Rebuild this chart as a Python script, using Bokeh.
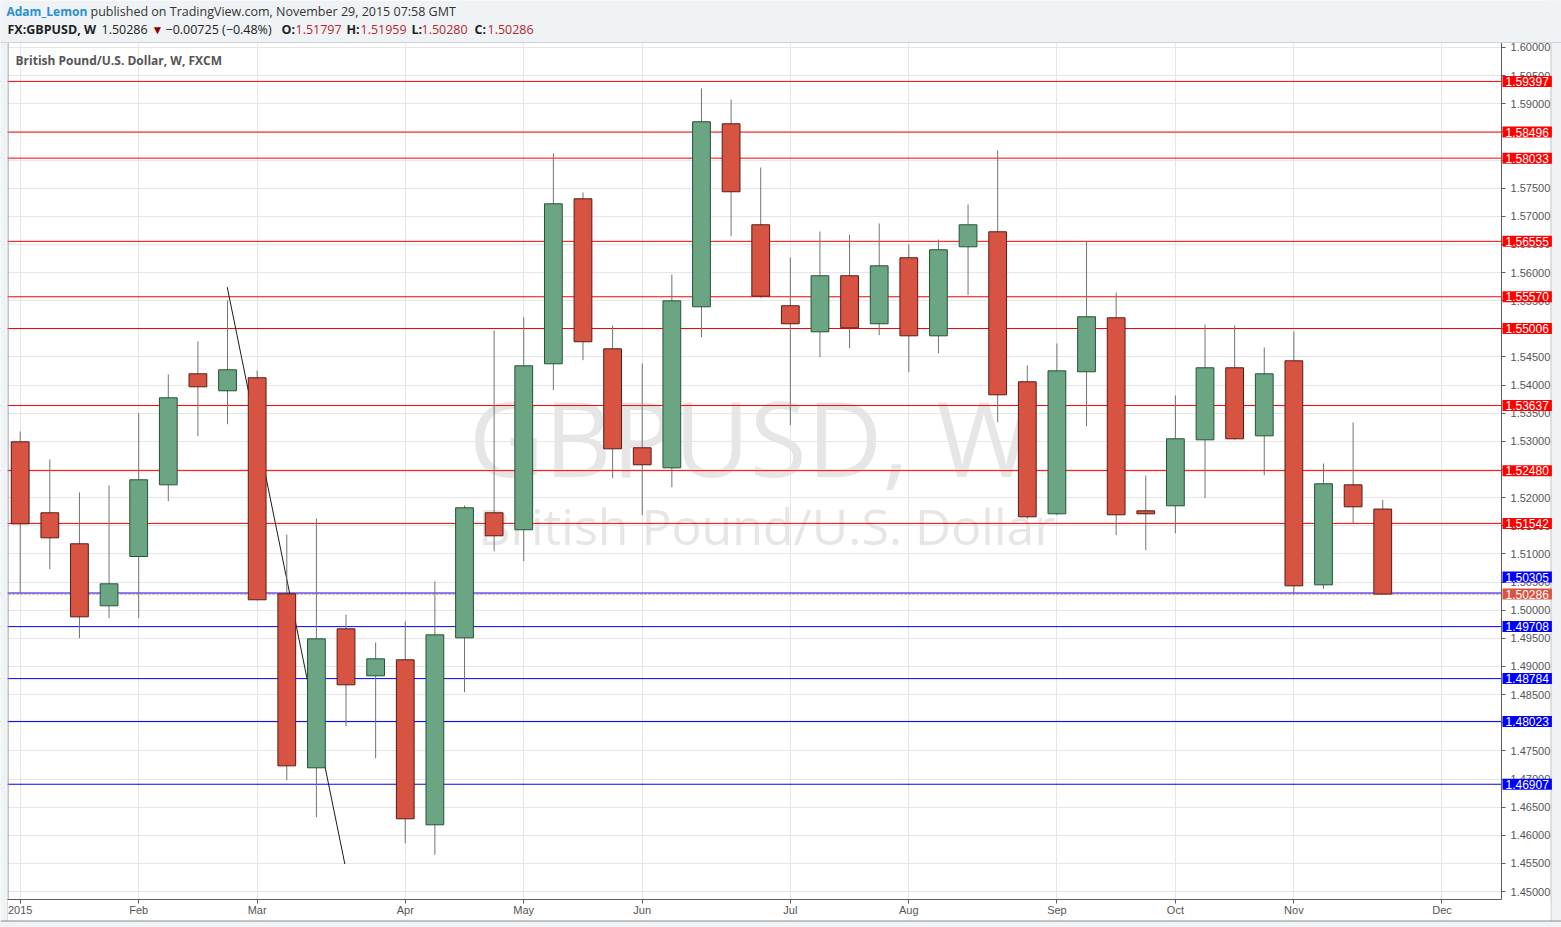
import pandas as pd
from bokeh.plotting import figure
from bokeh.models import (Range1d, FixedTicker, SingleIntervalTicker, PrintfTickFormatter,
                          Span, Label, BoxAnnotation, ColumnDataSource)
from bokeh.embed import file_html
from bokeh.resources import INLINE

# ---------------- data (GBPUSD weekly, FXCM, 2015) ----------------
opens = [1.52992, 1.51731, 1.51180, 1.50078, 1.50954, 1.52228, 1.54201, 1.53899, 1.54130, 1.50291,
         1.47199, 1.49669, 1.48834, 1.49118, 1.46186, 1.49509, 1.51731, 1.51429, 1.54379, 1.57311,
         1.54645, 1.52886, 1.52530, 1.55392, 1.58644, 1.56849, 1.55410, 1.54947, 1.55943, 1.55090,
         1.56263, 1.54876, 1.56458, 1.56725, 1.54059, 1.51713, 1.54237, 1.55196, 1.51766, 1.51855,
         1.53028, 1.54308, 1.53099, 1.54432, 1.50451, 1.52228, 1.51797]
highs = [1.53176, 1.52678, 1.52091, 1.52216, 1.53501, 1.54189, 1.54775, 1.55504, 1.54260, 1.51345,
         1.51629, 1.49923, 1.49426, 1.49799, 1.50510, 1.51860, 1.54971, 1.55202, 1.58116, 1.57423,
         1.55059, 1.54384, 1.55966, 1.59271, 1.59076, 1.57867, 1.56268, 1.56730, 1.56677, 1.56872,
         1.56499, 1.56588, 1.57210, 1.58170, 1.54349, 1.54740, 1.56565, 1.55646, 1.52394, 1.53815,
         1.55077, 1.55059, 1.54668, 1.54953, 1.52607, 1.53336, 1.51959]
lows = [1.50302, 1.50728, 1.49502, 1.49858, 1.49858, 1.51937, 1.53092, 1.53305, 1.50172, 1.46978,
        1.46321, 1.47938, 1.47369, 1.45859, 1.45653, 1.48542, 1.51048, 1.50871, 1.53910, 1.54443,
        1.52346, 1.51688, 1.52186, 1.54851, 1.56646, 1.55552, 1.53288, 1.54496, 1.54656, 1.54887,
        1.54229, 1.54567, 1.55598, 1.53341, 1.51624, 1.51688, 1.53270, 1.51333, 1.51066, 1.51368,
        1.51990, 1.53033, 1.52399, 1.50279, 1.50380, 1.51540, 1.50280]
closes = [1.51535, 1.51286, 1.49882, 1.50469, 1.52317, 1.53774, 1.53970, 1.54272, 1.50185, 1.47234,
          1.49491, 1.48674, 1.49136, 1.46293, 1.49562, 1.51820, 1.51322, 1.54343, 1.57222, 1.54770,
          1.52868, 1.52584, 1.55498, 1.58680, 1.57436, 1.55580, 1.55090, 1.55943, 1.55019, 1.56120,
          1.54876, 1.56405, 1.56849, 1.53828, 1.51660, 1.54254, 1.55214, 1.51695, 1.51713, 1.53046,
          1.54308, 1.53046, 1.54201, 1.50433, 1.52246, 1.51837, 1.50286]
first_week = "2015-01-05"

resistance_levels = [1.59397, 1.58496, 1.58033, 1.56555, 1.55570, 1.55006, 1.53637, 1.52480, 1.51542]
support_levels = [1.50305, 1.49708, 1.48784, 1.48023, 1.46907]
trend_x = [6.99, 10.96]
trend_y = [1.5574, 1.4549]
change_text = "\u22120.00725 (\u22120.48%)"

# ---------------- derived ----------------
n = len(opens)
xs = list(range(n))
week_starts = pd.date_range(first_week, periods=n + 3, freq="7D")
month_ticks, month_labels, seen = [], {}, set()
for i, d in enumerate(week_starts):
    key = (d.year, d.month)
    if key not in seen:
        seen.add(key)
        month_ticks.append(i)
        month_labels[i] = str(d.year) if d.month == 1 else d.strftime("%b")

UP_FILL, UP_LINE = "#6ba583", "#225437"
DN_FILL, DN_LINE = "#d75442", "#5b1a13"
up = [c >= o for o, c in zip(opens, closes)]
src = ColumnDataSource(dict(
    x=xs, o=opens, h=highs, l=lows, c=closes,
    top=[max(o, c) for o, c in zip(opens, closes)],
    bottom=[min(o, c) for o, c in zip(opens, closes)],
    fill=[UP_FILL if u else DN_FILL for u in up],
    line=[UP_LINE if u else DN_LINE for u in up],
))

# ---------------- layout ----------------
W, H = 1561, 927                 # the frame covers the whole canvas
X_START, X_END = -0.665, 52.035  # bar-index range across the full width
PRICE_AXIS_X = 50.01             # bar-index position of the price scale line
Y_LO, Y_HI = 1.44361, 1.60835    # price range across the full height
PANE_TOP, PANE_BOTTOM = 1.60089, 1.44859


def sy(py):                      # page y (from top) -> screen y (from bottom)
    return H - py


p = figure(width=W, height=H, output_backend="svg", toolbar_location=None, title=None,
           x_range=Range1d(X_START, X_END), y_range=Range1d(Y_LO, Y_HI),
           y_axis_location="right", min_border_left=0, min_border_right=0,
           min_border_top=0, min_border_bottom=0,
           background_fill_color="white", border_fill_color="white")
p.outline_line_color = None

AX_FONT = "Liberation Sans"
for ax in (p.xaxis[0], p.yaxis[0]):
    ax.axis_line_color = "#5d5d5d"
    ax.major_tick_line_color = "#5d5d5d"
    ax.major_tick_out = 4
    ax.major_tick_in = 0
    ax.minor_tick_line_color = None
    ax.major_label_text_font = AX_FONT
    ax.major_label_text_font_size = "11px"
    ax.major_label_text_color = "#555555"

p.xaxis.ticker = FixedTicker(ticks=month_ticks)
p.xaxis.major_label_overrides = month_labels
p.xaxis.major_label_standoff = 1
p.xaxis.bounds = (-0.43, PRICE_AXIS_X)
p.xaxis.fixed_location = PANE_BOTTOM
p.yaxis.ticker = SingleIntervalTicker(interval=0.005, num_minor_ticks=0)
p.yaxis.formatter = PrintfTickFormatter(format="%.5f")
p.yaxis.major_label_standoff = 5
p.yaxis.fixed_location = PRICE_AXIS_X
p.yaxis.bounds = (PANE_BOTTOM, PANE_TOP)

p.xgrid.ticker = FixedTicker(ticks=month_ticks)
p.ygrid.ticker = SingleIntervalTicker(interval=0.005, num_minor_ticks=0)
p.xgrid.grid_line_color = "#e6e6e6"
p.ygrid.grid_line_color = "#e6e6e6"

# watermark
p.add_layout(Label(x=750, y=sy(436), x_units="screen", y_units="screen", text="GBPUSD, W",
                   text_font="Open Sans", text_font_size="104px", text_color="#e6e6e6",
                   text_align="center", text_baseline="middle", level="underlay"))
p.add_layout(Label(x=766, y=sy(525), x_units="screen", y_units="screen", text="British Pound/U.S. Dollar",
                   text_font="Open Sans", text_font_size="50px", text_color="#e6e6e6",
                   text_align="center", text_baseline="middle", level="underlay"))

# horizontal levels
for lvl in resistance_levels:
    p.add_layout(Span(location=lvl, dimension="width", line_color="#ff0000", line_width=1, level="underlay"))
for lvl in support_levels:
    p.add_layout(Span(location=lvl, dimension="width", line_color="#0000ff", line_width=1, level="underlay"))
p.add_layout(Span(location=closes[-1], dimension="width", line_color="#d75442", line_width=1,
                  line_dash="2 2", level="underlay"))

# pane borders (left / right), partly hidden by the bands
for sx in (7.5, 1550.5):
    p.add_layout(Span(location=sx, location_units="screen", dimension="height",
                      line_color="#8a8a8a", line_width=1, level="underlay"))

# trend line, wicks, bodies
p.line(trend_x, trend_y, line_color="#1a1a1a", line_width=1)
p.segment(x0="x", y0="l", x1="x", y1="h", source=src, line_color="#737375", line_width=1)
p.vbar(x="x", width=0.6, top="top", bottom="bottom", source=src,
       fill_color="fill", line_color="line", line_width=1)

# masking bands: header, price-scale column, time-axis strip, outer strips
GRAY = "#f0f3f6"
for l, r, b, t, col in [(-5, W + 5, sy(42), H + 5, GRAY),         # header
                        (1501.5, 1550, sy(920), sy(42), "white"),  # price scale
                        (7.5, 1550, sy(920), sy(899.5), "white"),  # time scale
                        (-5, W + 5, -5, sy(920.5), GRAY),          # bottom strip
                        (-5, 7, -5, H + 5, GRAY),                  # left strip
                        (1551, W + 5, -5, H + 5, GRAY)]:           # right strip
    p.add_layout(BoxAnnotation(left=l, right=r, bottom=b, top=t,
                               left_units="screen", right_units="screen",
                               bottom_units="screen", top_units="screen",
                               fill_color=col, fill_alpha=1.0, line_color=None, level="glyph"))
p.add_layout(Span(location=PANE_TOP, dimension="width", line_color="#cfd2d8", line_width=1))
p.add_layout(Span(location=sy(920.5), location_units="screen", dimension="width",
                  line_color="#8a8a8a", line_width=1))


def make_label(**kw):
    try:
        return Label(padding=dict(left=3, right=3, top=1, bottom=1), **kw)
    except Exception:
        try:
            return Label(padding=2, **kw)
        except Exception:
            return Label(**kw)


# price tags on the price scale
tags = [(lvl, "#ff0000", 0) for lvl in resistance_levels] + \
       [(lvl, "#0000ff", 0) for lvl in support_levels] + [(closes[-1], "#d75442", 0)]
tags[len(resistance_levels)] = (support_levels[0], "#0000ff", 16)
for lvl, col, off in tags:
    p.add_layout(make_label(x=1502, x_units="screen", y=lvl, y_units="data", y_offset=off,
                            text=f"{lvl:.5f}", text_color="white", text_font=AX_FONT,
                            text_font_size="12px", text_baseline="middle",
                            background_fill_color=col, background_fill_alpha=1.0))

# pane title
p.add_layout(Label(x=15, y=sy(60), x_units="screen", y_units="screen",
                   text="British Pound/U.S. Dollar, W, FXCM", text_font="Open Sans",
                   text_font_size="12px", text_font_style="bold", text_color="#555555",
                   text_baseline="middle"))

# header lines
HF = "Open Sans"
RED = "#b8262b"
fmt = "{:.5f}".format
header = [
    ("Adam_Lemon", 6, 11, "#2a8fd0", "bold", "12px"),
    ("published on TradingView.com, November 29, 2015 07:58 GMT", 90, 11, "#333333", "normal", "12.5px"),
    ("FX:GBPUSD, W", 7, 29, "#222222", "bold", "12.5px"),
    (fmt(closes[-1]), 101, 29, "#222222", "normal", "12.5px"),
    ("\u25bc", 151, 29, "#8b0000", "normal", "12px"),
    (change_text, 165, 29, "#222222", "normal", "12.5px"),
    ("O:", 281, 29, "#222222", "bold", "12.5px"),
    (fmt(opens[-1]), 295, 29, RED, "normal", "12.5px"),
    ("H:", 346, 29, "#222222", "bold", "12.5px"),
    (fmt(highs[-1]), 360, 29, RED, "normal", "12.5px"),
    ("L:", 411, 29, "#222222", "bold", "12.5px"),
    (fmt(lows[-1]), 421, 29, RED, "normal", "12.5px"),
    ("C:", 474, 29, "#222222", "bold", "12.5px"),
    (fmt(closes[-1]), 487, 29, RED, "normal", "12.5px"),
]
for txt, px, py, col, style, size in header:
    p.add_layout(Label(x=px, y=sy(py), x_units="screen", y_units="screen", text=txt,
                       text_font=HF, text_font_size=size, text_font_style=style,
                       text_color=col, text_baseline="middle"))

open("out.html", "w").write(file_html(p, INLINE))
